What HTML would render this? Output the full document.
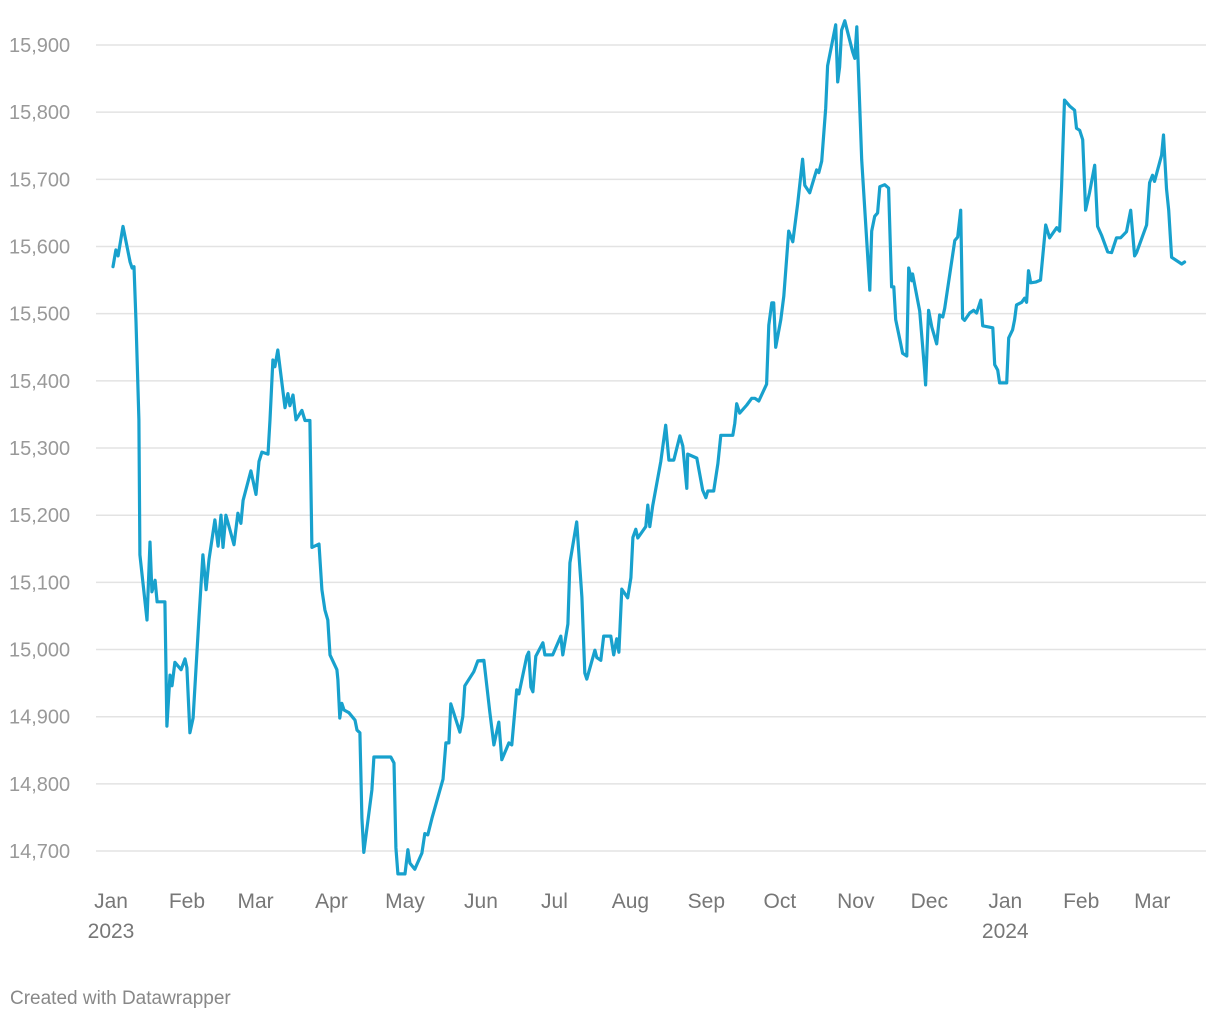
<!DOCTYPE html>
<html><head><meta charset="utf-8"><style>
html,body{margin:0;padding:0;background:#fff;}
body{width:1220px;height:1020px;overflow:hidden;font-family:"Liberation Sans",sans-serif;}
svg text{font-family:"Liberation Sans",sans-serif;}
</style></head><body>
<svg id="chart" width="1220" height="1020" xmlns="http://www.w3.org/2000/svg">
<g id="grid"></g>
<g id="yaxis"></g>
<g id="xaxis"></g>
<path id="line" fill="none" stroke="#18a1cd" stroke-width="3.2" stroke-linejoin="round" stroke-linecap="round"/>
<text x="10" y="1004" font-size="19" fill="#888">Created with Datawrapper</text>
</svg>
<script>
const days=[0.8,2.0,2.9,4.9,7.8,8.6,9.4,10.2,11.4,11.8,14.7,15.9,16.7,18.0,18.8,22.0,22.8,24.1,24.9,26.1,28.6,30.2,31.0,32.2,33.5,35.9,37.5,38.8,40.0,42.4,43.7,44.9,45.7,46.9,50.2,51.8,53.0,53.9,57.1,59.2,60.4,61.6,64.1,64.9,66.1,66.9,68.1,71.0,72.2,73.0,74.3,75.5,77.9,79.2,81.2,82.0,84.9,86.1,87.3,88.5,89.4,92.2,92.6,93.4,94.2,95.1,97.1,99.6,100.4,101.6,102.4,103.2,106.5,107.3,114.2,115.5,116.3,117.1,120.0,121.2,122.0,124.0,126.9,128.1,129.3,131.0,135.5,136.7,137.9,138.7,142.4,143.6,144.4,148.1,149.7,152.2,154.6,156.3,158.3,159.5,162.4,163.6,165.6,166.5,169.7,170.5,171.4,172.2,173.4,176.3,177.1,180.3,183.6,184.4,186.5,187.3,190.1,192.2,193.4,194.2,197.5,198.3,199.9,201.1,204.0,205.2,206.4,207.3,208.5,210.9,212.2,213.0,214.2,215.0,218.3,219.1,219.9,221.1,224.4,226.4,227.7,229.7,232.2,233.4,235.0,235.4,239.1,241.5,242.8,243.6,246.0,247.7,248.9,253.8,254.6,255.4,256.6,259.5,261.5,262.8,264.4,267.6,268.5,269.7,270.5,271.3,273.4,274.6,276.6,278.3,280.3,282.3,283.2,285.2,288.0,288.9,290.1,291.7,292.5,295.8,296.6,297.4,298.2,299.5,302.7,303.6,304.4,306.4,309.7,310.5,311.7,312.9,313.8,315.8,317.4,318.6,319.5,320.3,322.3,323.1,324.8,325.6,326.8,327.2,330.1,332.1,332.5,333.7,335.0,337.0,338.2,339.5,340.3,344.4,345.6,346.8,347.6,348.4,350.5,352.1,353.3,355.0,355.8,359.9,360.7,361.9,362.7,365.6,366.4,368.0,368.8,369.6,371.7,372.9,373.7,374.5,375.4,377.4,379.4,381.5,383.1,386.0,387.2,388.0,389.2,391.3,393.3,394.1,395.4,396.6,397.8,399.4,401.5,402.7,404.3,406.8,408.4,410.4,412.1,414.5,416.2,417.8,418.6,422.7,423.9,425.1,425.9,428.8,429.6,430.8,431.7,432.9,437.0,438.2];
const values=[15570,15595,15586,15630,15577,15568,15570,15488,15342,15141,15044,15160,15086,15103,15071,15071,14886,14962,14946,14981,14970,14986,14973,14876,14898,15048,15141,15089,15134,15193,15154,15200,15152,15200,15156,15203,15188,15222,15266,15231,15280,15294,15291,15342,15431,15421,15446,15360,15381,15363,15379,15342,15356,15341,15341,15152,15157,15089,15059,15044,14992,14970,14955,14898,14920,14910,14906,14895,14880,14876,14749,14698,14791,14840,14840,14831,14705,14666,14666,14702,14682,14673,14697,14726,14724,14749,14807,14861,14861,14919,14877,14900,14946,14967,14983,14984,14907,14858,14892,14836,14861,14858,14940,14934,14990,14996,14944,14937,14990,15010,14992,14992,15020,14992,15038,15129,15190,15078,14965,14956,14999,14988,14984,15020,15020,14992,15016,14996,15090,15077,15107,15167,15179,15166,15183,15215,15183,15214,15280,15334,15282,15282,15318,15303,15240,15291,15285,15237,15226,15236,15236,15277,15319,15319,15337,15366,15352,15364,15374,15374,15370,15395,15483,15516,15516,15450,15491,15526,15623,15607,15664,15730,15691,15680,15714,15710,15727,15806,15869,15930,15845,15867,15922,15936,15890,15880,15927,15729,15535,15623,15645,15650,15689,15692,15687,15540,15540,15491,15456,15441,15437,15568,15549,15559,15504,15416,15394,15505,15480,15455,15498,15495,15508,15609,15614,15654,15493,15490,15501,15505,15501,15520,15482,15479,15424,15416,15397,15397,15464,15476,15491,15513,15517,15523,15517,15564,15546,15547,15550,15632,15613,15628,15623,15690,15818,15809,15803,15776,15773,15759,15654,15680,15721,15630,15617,15592,15591,15613,15613,15622,15654,15586,15591,15632,15695,15706,15697,15736,15766,15686,15654,15584,15574,15577];
const yTicks=[14700,14800,14900,15000,15100,15200,15300,15400,15500,15600,15700,15800,15900];
const monthDays=[0,31,59,90,120,151,181,212,243,273,304,334,365,396,425];
const monthLabels=["Jan","Feb","Mar","Apr","May","Jun","Jul","Aug","Sep","Oct","Nov","Dec","Jan","Feb","Mar"];
const yearLabels={0:"2023",12:"2024"};
const NS="http://www.w3.org/2000/svg";
const xs=d=>111+d*2.45;
const ys=v=>45+(15900-v)*0.6717;
const grid=document.getElementById('grid'),ya=document.getElementById('yaxis'),xa=document.getElementById('xaxis');
yTicks.forEach(t=>{
 const l=document.createElementNS(NS,'line');
 
 
 l.setAttribute('x1',96);l.setAttribute('x2',1206);l.setAttribute('y1',ys(t));l.setAttribute('y2',ys(t));
 l.setAttribute('stroke','#e3e3e3');l.setAttribute('stroke-width','1.5');grid.appendChild(l);
 const tx=document.createElementNS(NS,'text');
 
 
 tx.setAttribute('x',9);tx.setAttribute('y',ys(t)+7);tx.setAttribute('font-size','20');tx.setAttribute('fill','#999');
 tx.textContent=t.toLocaleString('en-US');ya.appendChild(tx);
});
monthDays.forEach((d,i)=>{
 const tx=document.createElementNS(NS,'text');
 
 
 tx.setAttribute('x',xs(d));tx.setAttribute('y',908);tx.setAttribute('font-size','21');tx.setAttribute('fill','#777');tx.setAttribute('text-anchor','middle');
 tx.textContent=monthLabels[i];xa.appendChild(tx);
 if(yearLabels[i]){
  const yt=document.createElementNS(NS,'text');
  
  
  yt.setAttribute('x',xs(d));yt.setAttribute('y',938);yt.setAttribute('font-size','21');yt.setAttribute('fill','#777');yt.setAttribute('text-anchor','middle');
  yt.textContent=yearLabels[i];xa.appendChild(yt);
 }
});
document.getElementById('line').setAttribute('d',days.map((d,i)=>(i?'L':'M')+xs(d).toFixed(1)+','+ys(values[i]).toFixed(1)).join(''));
</script>
</body></html>
